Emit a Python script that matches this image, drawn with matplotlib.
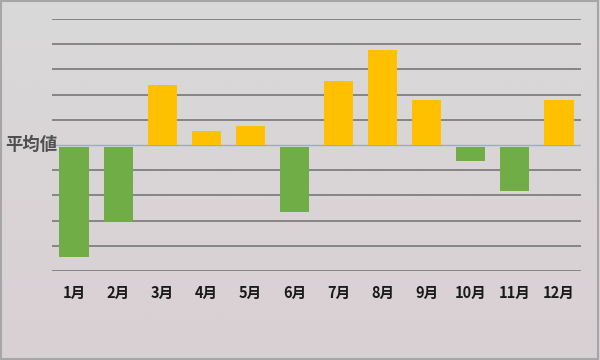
import matplotlib.pyplot as plt
import numpy as np
from matplotlib.colors import LinearSegmentedColormap
from matplotlib.patches import Rectangle

plt.rcParams['font.family'] = ['Noto Sans CJK JP', 'DejaVu Sans']

months = ['1月', '2月', '3月', '4月', '5月', '6月', '7月', '8月', '9月', '10月', '11月', '12月']
diffs = [-4.44, -3.06, 2.38, 0.56, 0.75, -2.66, 2.54, 3.77, 1.79, -0.63, -1.83, 1.79]
avg_label = '平均値'

fig = plt.figure(figsize=(6, 3.6), dpi=100)

# background gradient
bg = fig.add_axes([0, 0, 1, 1], zorder=-10)
cmap = LinearSegmentedColormap.from_list('bg', ['#d9d9d9', '#d9d0d4'])
bg.imshow(np.linspace(0, 1, 200).reshape(-1, 1), aspect='auto', cmap=cmap,
          extent=[0, 1, 0, 1])
bg.set_axis_off()
fig.add_artist(Rectangle((0.002, 0.003), 0.995, 0.993, transform=fig.transFigure,
                         fill=False, edgecolor='#a6a6a6', linewidth=1.5))

ax = fig.add_axes([52 / 600, 1 - 271 / 360, 529 / 600, 252 / 360])
ax.patch.set_alpha(0)

x = np.arange(len(months))
vals = np.array(diffs)
colors = ['#ffc000' if v > 0 else '#70ad47' for v in vals]
bottoms = np.where(vals > 0, 0, -0.08)
heights = np.where(vals > 0, vals, vals + 0.08)
ax.bar(x, heights, bottom=bottoms, width=0.66, color=colors, zorder=3)

for g in range(-5, 6):
    if g == 0:
        continue
    ax.axhline(g, color='#858585', linewidth=1.4, zorder=1)
ax.axhline(0, color='#9aabcf', linewidth=1.0, zorder=2)

ax.set_xlim(-0.5, 11.5)
ax.set_ylim(-5, 5)
ax.set_yticks([])
ax.set_xticks(x)
ax.set_xticklabels(months, fontweight='bold', fontsize=10.5, color='#1a1a1a')
ax.tick_params(axis='x', length=0, pad=10)
for s in ax.spines.values():
    s.set_visible(False)

ax.text(-0.38, 0.02, avg_label, ha='right', va='center', fontsize=12.5,
        fontweight='bold', color='#505050', clip_on=False)

fig.savefig('out.png', dpi=100)
